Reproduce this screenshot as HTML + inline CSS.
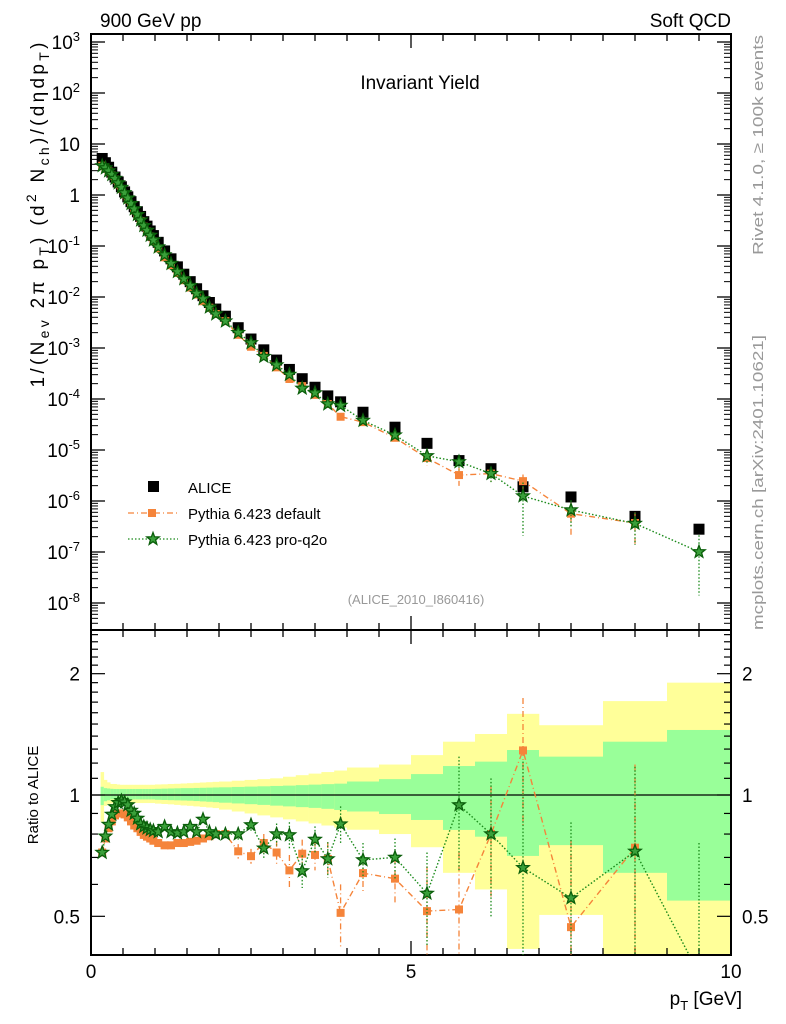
<!DOCTYPE html>
<html><head><meta charset="utf-8"><style>
html,body{margin:0;padding:0;background:#fff;width:786px;height:1024px;overflow:hidden}
svg{display:block;font-family:"Liberation Sans",sans-serif}
</style></head><body>
<svg id="c" width="786" height="1024" viewBox="0 0 786 1024" xmlns="http://www.w3.org/2000/svg">
<rect width="786" height="1024" fill="#fff"/>
<g id="bands"></g>
<g id="axes"></g>
<g id="series"></g>
<text x="100" y="27" font-size="19">900 GeV pp</text>
<text x="731" y="27" font-size="19" text-anchor="end">Soft QCD</text>
<text x="420" y="89" font-size="19" text-anchor="middle">Invariant Yield</text>
<text x="416" y="604" font-size="13" fill="#999" text-anchor="middle">(ALICE_2010_I860416)</text>
<text transform="translate(763,255) rotate(-90)" font-size="15" fill="#999" textLength="220" lengthAdjust="spacingAndGlyphs">Rivet 4.1.0, ≥ 100k events</text>
<text transform="translate(763,630) rotate(-90)" font-size="15" fill="#999" textLength="295" lengthAdjust="spacingAndGlyphs">mcplots.cern.ch [arXiv:2401.10621]</text>
<text transform="translate(44,215) rotate(-90)" font-size="19" text-anchor="middle" textLength="345" lengthAdjust="spacing">1/(N<tspan font-size="14" dy="5">ev</tspan><tspan dy="-5"> 2π p</tspan><tspan font-size="14" dy="5">T</tspan><tspan dy="-5">) (d</tspan><tspan font-size="14" dy="-8">2</tspan><tspan dy="8"> N</tspan><tspan font-size="14" dy="5">ch</tspan><tspan dy="-5">)/(dηdp</tspan><tspan font-size="14" dy="5">T</tspan><tspan dy="-5">)</tspan></text>
<text transform="translate(38,795) rotate(-90)" font-size="15" text-anchor="middle">Ratio to ALICE</text>
<text x="742" y="1005" font-size="19" text-anchor="end">p<tspan font-size="13" dy="5">T</tspan><tspan dy="-5"> [GeV]</tspan></text>
<g>
<rect x="148" y="481" width="11" height="11" fill="#000"/>
<text x="188" y="493" font-size="15">ALICE</text>
<line x1="128" y1="513" x2="178" y2="513" stroke="#f5843a" stroke-width="1.3" stroke-dasharray="6,3,1,3"/>
<rect x="148" y="509" width="8" height="8" fill="#f5843a"/>
<text x="188" y="519" font-size="15">Pythia 6.423 default</text>
<line x1="128" y1="539" x2="178" y2="539" stroke="#1a8a1a" stroke-width="1.3" stroke-dasharray="1.5,2"/>
<text x="188" y="545" font-size="15">Pythia 6.423 pro-q2o</text>
<g id="legstar"></g>
</g>
</svg>
<script>
const binEdges=[0.15,0.2,0.25,0.3,0.35,0.4,0.45,0.5,0.55,0.6,0.65,0.7,0.75,0.8,0.85,0.9,0.95,1.0,1.1,1.2,1.3,1.4,1.5,1.6,1.7,1.8,1.9,2.0,2.2,2.4,2.6,2.8,3.0,3.2,3.4,3.6,3.8,4.0,4.5,5.0,5.5,6.0,6.5,7.0,8.0,9.0,10.0];
const aliceY=[5.2,4.3,3.5,2.8,2.25,1.8,1.45,1.15,0.92,0.74,0.59,0.47,0.38,0.30,0.245,0.197,0.16,0.118,0.08,0.056,0.039,0.028,0.020,0.0145,0.0106,0.0078,0.0058,0.0042,0.0025,0.00150,0.00092,0.00058,0.00038,0.00025,0.00017,0.000115,0.000088,5.5e-5,2.8e-5,1.35e-5,6.2e-6,4.3e-6,1.9e-6,1.2e-6,5.0e-7,2.8e-7];
const ratioDefault=[0.72,0.78,0.827,0.86,0.89,0.90,0.90,0.895,0.88,0.86,0.84,0.827,0.81,0.796,0.788,0.78,0.77,0.76,0.75,0.75,0.76,0.76,0.765,0.77,0.78,0.79,0.80,0.80,0.725,0.705,0.76,0.72,0.65,0.715,0.71,0.694,0.51,0.64,0.62,0.515,0.52,0.80,1.29,0.47,0.74,null];
const errDefault=[0,0,0,0,0,0,0,0,0,0,0,0,0,0,0,0,0,0,0,0,0,0,0,0.01,0.01,0.02,0.02,0.02,0.03,0.03,0.04,0.05,0.06,0.06,0.06,0.07,0.09,0.07,0.08,0.15,0.2,0.25,0.45,0.3,0.45,0];
const ratioProq2o=[0.72,0.79,0.845,0.895,0.935,0.957,0.968,0.96,0.945,0.915,0.90,0.875,0.847,0.835,0.827,0.82,0.815,0.81,0.835,0.81,0.805,0.81,0.835,0.81,0.87,0.81,0.80,0.80,0.80,0.843,0.738,0.80,0.796,0.648,0.776,0.694,0.847,0.69,0.70,0.57,0.945,0.80,0.66,0.555,0.725,0.36];
const errProq2o=[0,0,0,0,0,0,0,0,0,0,0,0,0,0,0,0,0,0,0,0,0,0,0,0.01,0.01,0.02,0.02,0.02,0.03,0.03,0.04,0.05,0.06,0.06,0.06,0.07,0.09,0.07,0.08,0.15,0.3,0.3,0.55,0.3,0.45,0.4];
const yellowUp=[1.14,1.09,1.075,1.065,1.065,1.062,1.06,1.06,1.06,1.06,1.06,1.06,1.06,1.06,1.06,1.06,1.06,1.062,1.063,1.065,1.066,1.068,1.07,1.072,1.074,1.076,1.078,1.08,1.085,1.09,1.095,1.10,1.11,1.12,1.13,1.14,1.15,1.17,1.19,1.256,1.356,1.417,1.59,1.49,1.71,1.90];
const greenUp=[1.048,1.04,1.038,1.036,1.035,1.035,1.035,1.035,1.035,1.035,1.035,1.035,1.035,1.035,1.035,1.035,1.035,1.036,1.037,1.038,1.039,1.04,1.04,1.041,1.042,1.043,1.044,1.045,1.047,1.049,1.051,1.053,1.055,1.058,1.061,1.064,1.067,1.08,1.095,1.127,1.18,1.21,1.293,1.245,1.356,1.45];
const greenDn=[0.944,0.965,0.97,0.975,0.975,0.975,0.975,0.975,0.975,0.975,0.975,0.975,0.975,0.975,0.975,0.975,0.975,0.973,0.972,0.971,0.97,0.969,0.968,0.966,0.964,0.962,0.96,0.957,0.953,0.949,0.945,0.941,0.937,0.933,0.929,0.924,0.918,0.91,0.897,0.867,0.819,0.788,0.706,0.751,0.641,0.547];
const yellowDn=[0.858,0.94,0.95,0.953,0.955,0.955,0.955,0.955,0.955,0.955,0.955,0.955,0.955,0.955,0.955,0.955,0.955,0.952,0.95,0.948,0.945,0.942,0.94,0.937,0.934,0.931,0.928,0.92,0.91,0.9,0.89,0.88,0.87,0.86,0.85,0.84,0.83,0.82,0.80,0.742,0.641,0.583,0.415,0.504,0.3,0.3];
const xTicksMajor=[0,5,10];
const yTickExp=[-8,-7,-6,-5,-4,-3,-2,-1,0,1,2,3];
const rTicks=[0.5,1,2];

const NS="http://www.w3.org/2000/svg";
const X0=91,X1=731,T0=34,T1=630,R1=955;
const sx=v=>X0+(v/10)*(X1-X0);
const sy=v=>195-51*Math.log10(v);
const sr=v=>795-403*Math.log10(v);
function mk(tag,attrs,parent){const e=document.createElementNS(NS,tag);for(const k in attrs)e.setAttribute(k,attrs[k]);parent.appendChild(e);return e;}
const bands=document.getElementById('bands'),axes=document.getElementById('axes'),series=document.getElementById('series');
const centers=[];for(let i=0;i<binEdges.length-1;i++)centers.push((binEdges[i]+binEdges[i+1])/2);
const clampR=y=>Math.max(T1,Math.min(R1,y));

for(let i=0;i<centers.length;i++){
  const xa=sx(binEdges[i]),xb=sx(binEdges[i+1]);
  const ya=clampR(sr(yellowUp[i])),yb=clampR(sr(yellowDn[i]));
  const r=mk('rect',{x:xa,y:ya,width:xb-xa+0.3,height:yb-ya,fill:'#ffff99'},bands);
  
  
  const ga=clampR(sr(greenUp[i])),gb=clampR(sr(greenDn[i]));
  const g=mk('rect',{x:xa,y:ga,width:xb-xa+0.3,height:gb-ga,fill:'#99ff99'},bands);
  
  
}
const f1=mk('rect',{x:X0,y:T0,width:X1-X0,height:T1-T0,fill:'none',stroke:'#000','stroke-width':2},axes);


const f2=mk('rect',{x:X0,y:T1,width:X1-X0,height:R1-T1,fill:'none',stroke:'#000','stroke-width':2},axes);


const ul=mk('line',{x1:X0,x2:X1,y1:sr(1),y2:sr(1),stroke:'#000','stroke-width':1.3},axes);


for(let v=0;v<=10.001;v+=0.5){
  const maj=xTicksMajor.includes(Math.round(v*10)/10);
  const len=maj?14:7;
  mk('line',{x1:sx(v),x2:sx(v),y1:R1,y2:R1-len,stroke:'#000','stroke-width':1.3},axes);
  mk('line',{x1:sx(v),x2:sx(v),y1:T1,y2:T1-len,stroke:'#000','stroke-width':1.3},axes);
  mk('line',{x1:sx(v),x2:sx(v),y1:T0,y2:T0+len,stroke:'#000','stroke-width':1.3},axes);
  mk('line',{x1:sx(v),x2:sx(v),y1:T1,y2:T1+len,stroke:'#000','stroke-width':1.3},axes);
}
xTicksMajor.forEach(v=>{
  const t=mk('text',{x:sx(v),y:978,'font-size':19,'text-anchor':'middle'},axes);t.textContent=v;
  
  
});
yTickExp.forEach(e=>{
  const y=sy(Math.pow(10,e));
  mk('line',{x1:X0,x2:X0+14,y1:y,y2:y,stroke:'#000','stroke-width':1.3},axes);
  mk('line',{x1:X1,x2:X1-14,y1:y,y2:y,stroke:'#000','stroke-width':1.3},axes);
  if(e<3){for(let k=2;k<10;k++){const yy=sy(k*Math.pow(10,e));if(yy>T0){
    mk('line',{x1:X0,x2:X0+7,y1:yy,y2:yy,stroke:'#000','stroke-width':1},axes);
    mk('line',{x1:X1,x2:X1-7,y1:yy,y2:yy,stroke:'#000','stroke-width':1},axes);}}}
  const t=mk('text',{x:80,y:y+7,'font-size':19,'text-anchor':'end'},axes);
  if(e===0)t.textContent='1';else if(e===1)t.textContent='10';
  else{t.textContent='10';const s=mk('tspan',{'font-size':13,dy:-8},t);s.textContent=e;}
  
  
});
for(let k=2;k<10;k++){const yy=sy(k*1e-9);if(yy<T1){
  mk('line',{x1:X0,x2:X0+7,y1:yy,y2:yy,stroke:'#000','stroke-width':1},axes);mk('line',{x1:X1,x2:X1-7,y1:yy,y2:yy,stroke:'#000','stroke-width':1},axes);}}
for(let v=0.4;v<=2.5;v=Math.round((v+0.1)*10)/10){
  const y=sr(v);if(y<T1||y>R1)continue;
  const maj=rTicks.includes(v);
  mk('line',{x1:X0,x2:X0+(maj?14:7),y1:y,y2:y,stroke:'#000','stroke-width':1.2},axes);
  mk('line',{x1:X1,x2:X1-(maj?14:7),y1:y,y2:y,stroke:'#000','stroke-width':1.2},axes);
}
rTicks.forEach(v=>{
  [[80,'end'],[742,'start']].forEach(([xx,a])=>{
    const t=mk('text',{x:xx,y:sr(v)+7,'font-size':19,'text-anchor':a},axes);t.textContent=v;
    
    
  });
});
function starPts(cx,cy,R){let p=[];for(let i=0;i<10;i++){const r=i%2?R*0.42:R;const a=-Math.PI/2+i*Math.PI/5;p.push((cx+r*Math.cos(a)).toFixed(1)+','+(cy+r*Math.sin(a)).toFixed(1));}return p.join(' ');}
const ls=mk('polygon',{points:starPts(153,539,6.5),fill:'#3aa03a',stroke:'#0a5e0a','stroke-width':1.3},document.getElementById('legstar'));



const defs=mk('defs',{},document.getElementById('c'));
const cp=mk('clipPath',{id:'rc'},defs);mk('rect',{x:X0,y:T1,width:X1-X0,height:R1-T1},cp);
const cp2=mk('clipPath',{id:'tc'},defs);mk('rect',{x:X0,y:T0,width:X1-X0,height:T1-T0},cp2);
const gTop=mk('g',{'clip-path':'url(#tc)'},series),gRat=mk('g',{'clip-path':'url(#rc)'},series);

centers.forEach((c,i)=>{
  const r=mk('rect',{x:sx(c)-5.5,y:sy(aliceY[i])-5.5,width:11,height:11,fill:'#000'},gTop);
  
  
});
function drawMC(ratio,err,color,dash,isStar,name){
  [[gTop,(i,v)=>sy(v*aliceY[i])],[gRat,(i,v)=>sr(v)]].forEach(([g,fy])=>{
    let pts=[];
    ratio.forEach((v,i)=>{if(v!=null)pts.push(sx(centers[i]).toFixed(1)+','+fy(i,v).toFixed(1));});
    const pl=mk('polyline',{points:pts.join(' '),fill:'none',stroke:color,'stroke-width':1.4,'stroke-dasharray':dash},g);
    
    
    ratio.forEach((v,i)=>{
      if(v==null)return;
      const x=sx(centers[i]),y=fy(i,v);
      if(err[i]>0){
        const lo=Math.max(v-err[i],0.05),hi=v+err[i];
        const e=mk('line',{x1:x,x2:x,y1:fy(i,hi),y2:fy(i,lo),stroke:color,'stroke-width':1.3,'stroke-dasharray':dash},g);
        
        
      }
      let m;
      if(isStar)m=mk('polygon',{points:starPts(x,y,6.5),fill:'#3aa03a',stroke:'#0a5e0a','stroke-width':1.3},g);
      else m=mk('rect',{x:x-4,y:y-4,width:8,height:8,fill:color},g);
      
      
    });
  });
}
drawMC(ratioDefault,errDefault,'#f5843a','6,3,1,3',false,'pythia-default');
drawMC(ratioProq2o,errProq2o,'#1a8a1a','1.5,2',true,'pythia-proq2o');
</script>
</body></html>
